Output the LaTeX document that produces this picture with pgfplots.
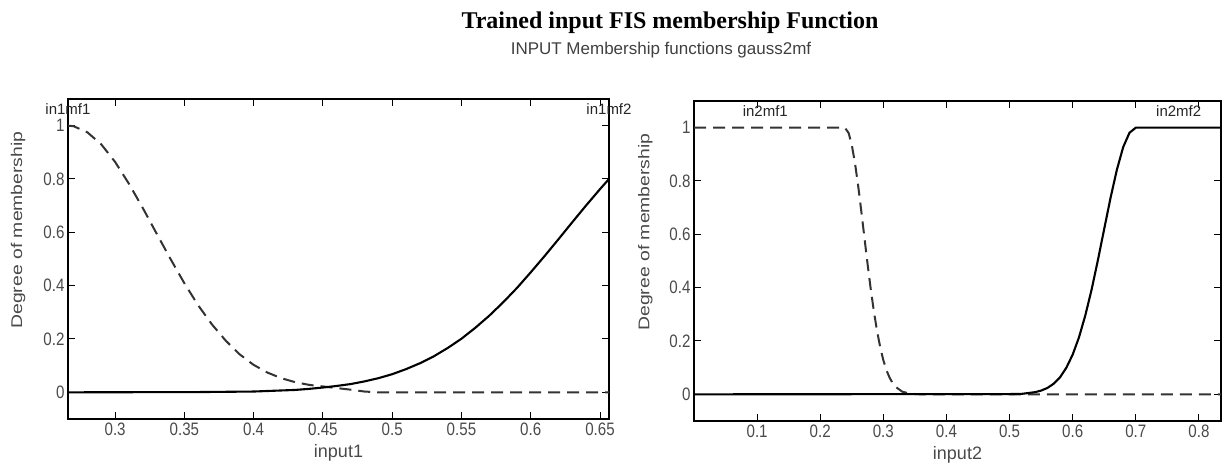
\documentclass[border=0pt]{standalone}
\usepackage{graphicx}
\usepackage{fontspec}
\usepackage{pgfplots}
\pgfplotsset{compat=1.18}
\setmainfont{Liberation Sans}
\newfontfamily\tickfont[FakeStretch=0.84]{Liberation Sans}
\newfontfamily\ylfont[FakeStretch=1.25]{Liberation Sans}
\newfontfamily\titlefont{Liberation Serif}
\definecolor{tickgray}{HTML}{4A4A4A}
\definecolor{dashgray}{HTML}{333333}

\pgfplotsset{
  mfaxis/.style={
    scale only axis, anchor=south west, clip=false,
    ymin=-0.1, ymax=1.1,
    ytick={0,0.2,0.4,0.6,0.8,1},
    yticklabels={0,0.2,0.4,0.6,0.8,1},
    tick align=inside, major tick length=7bp,
    axis line style={line width=1.2bp},
    every tick/.style={black, line width=1bp},
    tick label style={font=\tickfont\fontsize{18bp}{20bp}\selectfont, text=tickgray},
    xlabel style={at={(axis description cs:0.5,0)}, anchor=center, yshift=-34bp,
      font=\fontsize{18bp}{20bp}\selectfont, text=tickgray},
    ylabel style={at={(axis description cs:-0.0924,0.5906)}, anchor=center,
      font=\ylfont\fontsize{15.5bp}{18bp}\selectfont, text=tickgray},
    ylabel={Degree of membership},
  },
}
\tikzset{
  mfdash/.style={dashgray, line width=2bp, dash pattern=on 12bp off 7bp},
  mfsolid/.style={black, line width=2.1bp},
  mflabel/.style={anchor=base, yshift=11bp, text=black!85,
    font=\fontsize{15bp}{17bp}\selectfont},
}

\begin{document}
\begin{tikzpicture}
\useasboundingbox (0,0) rectangle (1222bp,470bp);

\node[font=\titlefont\bfseries\fontsize{24bp}{28bp}\selectfont] at (670bp,447bp)
  {Trained input FIS membership Function};
\node[font=\fontsize{17bp}{20bp}\selectfont, text=black!75] at (661bp,420bp)
  {INPUT Membership functions gauss2mf};

% input1
\begin{axis}[mfaxis, at={(68bp,51bp)}, width=541bp, height=320bp,
  xmin=0.266, xmax=0.6565,
  xtick={0.3,0.35,0.4,0.45,0.5,0.55,0.6,0.65},
  xticklabels={0.3,0.35,0.4,0.45,0.5,0.55,0.6,0.65},
  xlabel={input1}]
\addplot[mfdash] coordinates {
  (0.266,1)(0.27,0.998)(0.28,0.975)(0.29,0.930)(0.30,0.864)(0.31,0.782)
  (0.32,0.691)(0.33,0.595)(0.34,0.500)(0.35,0.409)(0.36,0.326)(0.37,0.254)
  (0.38,0.193)(0.39,0.142)(0.40,0.103)(0.41,0.074)(0.42,0.053)(0.43,0.038)
  (0.44,0.028)(0.45,0.022)(0.46,0.016)(0.47,0.010)(0.48,0.003)(0.49,0)
  (0.6565,0)};
\addplot[mfsolid] coordinates {
  (0.266,0)(0.36,0.001)(0.38,0.002)(0.40,0.003)(0.41,0.005)(0.42,0.007)
  (0.43,0.009)(0.44,0.013)(0.45,0.018)(0.46,0.024)(0.47,0.031)(0.48,0.041)
  (0.49,0.053)(0.50,0.068)(0.51,0.087)(0.52,0.109)(0.53,0.135)(0.54,0.166)
  (0.55,0.201)(0.56,0.242)(0.57,0.287)(0.58,0.337)(0.59,0.391)(0.60,0.450)
  (0.61,0.511)(0.62,0.574)(0.63,0.638)(0.64,0.701)(0.65,0.762)(0.6565,0.800)};
\node[mflabel] at (axis cs:0.266,1) {in1mf1};
\node[mflabel] at (axis cs:0.6565,1) {in1mf2};
\end{axis}

% input2
\begin{axis}[mfaxis, at={(694bp,49bp)}, width=527bp, height=320bp,
  xmin=0, xmax=0.835,
  xtick={0.1,0.2,0.3,0.4,0.5,0.6,0.7,0.8},
  xticklabels={0.1,0.2,0.3,0.4,0.5,0.6,0.7,0.8},
  xlabel={input2}]
\addplot[mfdash] coordinates {
  (0,1)(0.239,1)(0.245,0.980)(0.25,0.935)(0.255,0.868)(0.26,0.784)
  (0.265,0.688)(0.27,0.588)(0.275,0.489)(0.28,0.395)(0.285,0.311)(0.29,0.238)
  (0.295,0.177)(0.30,0.128)(0.305,0.090)(0.31,0.062)(0.315,0.041)(0.32,0.027)
  (0.33,0.010)(0.34,0.004)(0.35,0.001)(0.36,0)(0.835,0)};
\addplot[mfsolid] coordinates {
  (0,0)(0.50,0.001)(0.52,0.002)(0.54,0.008)(0.55,0.014)(0.56,0.024)
  (0.57,0.040)(0.58,0.064)(0.59,0.100)(0.60,0.149)(0.61,0.214)(0.62,0.296)
  (0.63,0.393)(0.64,0.504)(0.65,0.621)(0.66,0.737)(0.67,0.842)(0.68,0.927)
  (0.69,0.981)(0.70,1)(0.835,1)};
\node[mflabel] at (axis cs:0.113,1) {in2mf1};
\node[mflabel] at (axis cs:0.768,1) {in2mf2};
\end{axis}
\end{tikzpicture}
\end{document}
